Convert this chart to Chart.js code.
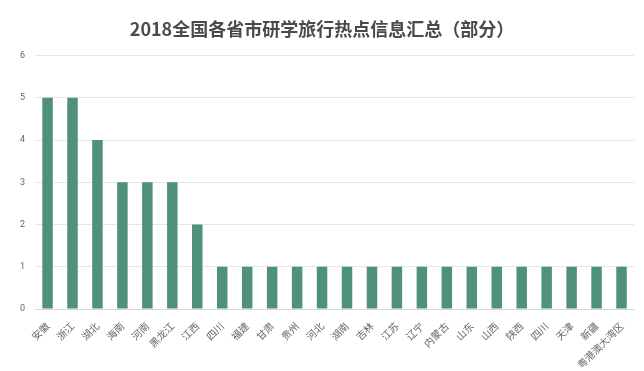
<!DOCTYPE html>
<html>
<head>
<meta charset="utf-8">
<script src="https://cdn.jsdelivr.net/npm/chart.js@4"></script>
<style>
  body { margin: 0; background: #fff; }
  #wrap { width: 644px; height: 371px; }
</style>
</head>
<body>
<div id="wrap"><canvas id="hot-spots"></canvas></div>
<script>
// 省市名称
const provinces = ['安徽', '浙江', '湖北', '海南', '河南', '黑龙江', '江西', '四川', '福建', '甘肃',
  '贵州', '河北', '湖南', '吉林', '江苏', '辽宁', '内蒙古', '山东', '山西', '陕西',
  '四川', '天津', '新疆', '粤港澳大湾区'];
// 热点数量
const counts = [5, 5, 4, 3, 3, 3, 2, 1, 1, 1,
  1, 1, 1, 1, 1, 1, 1, 1, 1, 1,
  1, 1, 1, 1];
const yTicks = [0, 1, 2, 3, 4, 5, 6];

const ctx = document.getElementById('hot-spots');
const myChart = new Chart(ctx, {
  type: 'bar',
  data: {
    labels: provinces,
    datasets: [{
      label: '热点',
      data: counts,
      backgroundColor: '#4f917a',
      barPercentage: 0.42,
      categoryPercentage: 1,
    }],
  },
  options: {
    responsive: true,
    maintainAspectRatio: false,
    animation: false,
    layout: { padding: { left: 10, right: 10, top: 6, bottom: 0 } },
    plugins: {
      legend: { display: false },
      tooltip: { enabled: false },
      title: {
        display: true,
        text: '2018全国各省市研学旅行热点信息汇总（部分）',
        color: '#4a4a4a',
        font: { family: '"Noto Sans CJK SC", sans-serif', size: 18, weight: 'bold' },
        padding: { top: 12, bottom: 16 },
      },
    },
    scales: {
      x: {
        grid: { display: false },
        border: { color: '#d9d9d9' },
        afterFit: scale => { scale.height = 62; },
        ticks: {
          minRotation: 45,
          maxRotation: 45,
          autoSkip: false,
          color: '#666',
          padding: 3,
          font: { family: '"Noto Sans CJK SC", sans-serif', size: 10 },
        },
      },
      y: {
        min: 0,
        max: 6,
        afterBuildTicks: axis => { axis.ticks = yTicks.map(v => ({ value: v })); },
        border: { display: false },
        grid: { color: '#e6e6e6', drawTicks: false },
        ticks: {
          color: '#666',
          padding: 10,
          font: { family: 'Roboto, sans-serif', size: 9 },
        },
      },
    },
  },
});
</script>
</body>
</html>
